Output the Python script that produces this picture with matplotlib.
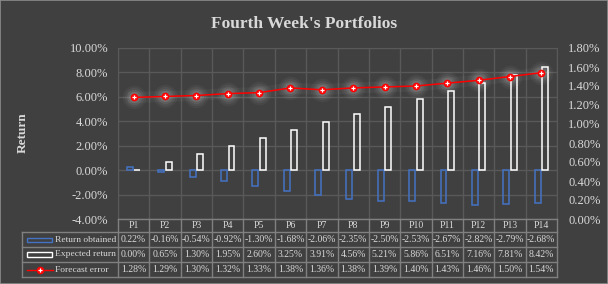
import numpy as np
import matplotlib.pyplot as plt
import matplotlib.transforms as mtransforms
from matplotlib.patches import Rectangle
from matplotlib.lines import Line2D

plt.rcParams['font.family'] = ['Liberation Serif', 'DejaVu Serif']

portfolios = ['P1', 'P2', 'P3', 'P4', 'P5', 'P6', 'P7',
              'P8', 'P9', 'P10', 'P11', 'P12', 'P13', 'P14']
return_obtained = [0.22, -0.16, -0.54, -0.92, -1.30, -1.68, -2.06,
                   -2.35, -2.50, -2.53, -2.67, -2.82, -2.79, -2.68]
expected_return = [0.00, 0.65, 1.30, 1.95, 2.60, 3.25, 3.91,
                   4.56, 5.21, 5.86, 6.51, 7.16, 7.81, 8.42]
forecast_error = [1.28, 1.29, 1.30, 1.32, 1.33, 1.38, 1.36,
                  1.38, 1.39, 1.40, 1.43, 1.46, 1.50, 1.54]

BG = '#404040'
GRID = '#595959'
TXT = '#d9d9d9'
BLUE = '#4472c4'
W, H = 608, 284

fig = plt.figure(figsize=(W / 100, H / 100), dpi=100, facecolor=BG)
fig.patches.append(Rectangle((0, 0), 1, 1, transform=fig.transFigure,
                             facecolor='none', edgecolor='#8c8c8c', lw=1.2))

L, R, T, B = 118, 557, 48, 219
ax = fig.add_axes([L / W, 1 - B / H, (R - L) / W, (B - T) / H])
ax.set_facecolor(BG)
x = np.arange(len(portfolios))

# bars
ax.bar(x - 0.12, return_obtained, 0.19, facecolor='none', edgecolor=BLUE, lw=1.1, zorder=3)
ax.bar(x + 0.12, expected_return, 0.19, facecolor='none', edgecolor='white', lw=1.1, zorder=3)

ax.set_xlim(-0.5, len(portfolios) - 0.5)
ax.set_ylim(-4, 10)
ax.set_yticks(np.arange(-4, 10.1, 2))
ax.set_yticklabels(['%.2f%%' % v for v in np.arange(-4, 10.1, 2)])
ax.set_xticks([])
ax.set_xticks(np.arange(-0.5, len(portfolios)), minor=True)
ax.tick_params(axis='x', which='both', length=0, labelbottom=False)
ax.tick_params(axis='y', length=0, colors=TXT, labelsize=9, pad=7)
ax.grid(axis='y', color=GRID, lw=1)
ax.grid(axis='x', which='minor', color=GRID, lw=1)
ax.set_axisbelow(True)
for s in ax.spines.values():
    s.set_color(GRID)

fig.text(23 / W, 1 - 133 / H, 'Return', rotation=90, ha='center', va='center',
         color=TXT, fontsize=9.5, fontweight='bold')

# forecast error on right axis
ax2 = ax.twinx()
ax2.set_ylim(0, 1.8)
ax2.set_yticks(np.arange(0, 1.81, 0.2))
ax2.set_yticklabels(['%.2f%%' % v for v in np.arange(0, 1.81, 0.2)])
ax2.tick_params(axis='y', length=0, colors=TXT, labelsize=9, pad=8)
for s in ax2.spines.values():
    s.set_visible(False)
for sz, a in [(17, 0.04), (14, 0.05), (11, 0.07), (8, 0.09)]:
    ax2.plot(x, forecast_error, 'o', ms=sz, color='white', alpha=a, mec='none', zorder=4)
ax2.plot(x, forecast_error, color='white', lw=8, alpha=0.04, zorder=4)
ax2.plot(x, forecast_error, color='#ff0000', lw=1.1, marker='o', ms=4.5,
         mfc='#ff2020', mec='#ff0000', zorder=5)
ax2.plot(x, forecast_error, '+', ms=3, mew=0.8, color='white', zorder=6)

fig.text(0.5, 1 - 24 / H, "Fourth Week's Portfolios", ha='center', va='center',
         color=TXT, fontsize=12.5, fontweight='bold')

# data table
tr = mtransforms.blended_transform_factory(ax.transData, fig.transFigure)
fy = lambda py: 1 - py / H
fx = lambda px: px / W
rows = [219, 232, 247, 262, 277]
LINE = '#808080'
for i, r in enumerate(rows):
    fig.add_artist(Line2D([fx(L if i == 0 else 22), fx(R)], [fy(r), fy(r)],
                          color=LINE, lw=1))
for b in np.arange(-0.5, len(portfolios)):
    fig.add_artist(Line2D([b, b], [fy(rows[0]), fy(rows[-1])], transform=tr,
                          color=LINE, lw=1))
fig.add_artist(Line2D([fx(22), fx(22)], [fy(rows[1]), fy(rows[-1])], color=LINE, lw=1))

mid = [(rows[i] + rows[i + 1]) / 2 for i in range(4)]
for i, p in enumerate(portfolios):
    fig.text(x[i], fy(mid[0]), p, transform=tr, ha='center', va='center', color=TXT, fontsize=7)
    for j, series in enumerate([return_obtained, expected_return, forecast_error]):
        fig.text(x[i], fy(mid[j + 1]), '%.2f%%' % series[i], transform=tr,
                 ha='center', va='center', color=TXT, fontsize=7)

names = ['Return obtained', 'Expected return', 'Forecast error']
for j, n in enumerate(names):
    fig.text(fx(55), fy(mid[j + 1]), n, ha='left', va='center', color=TXT, fontsize=6.8)
fig.patches.append(Rectangle((fx(27), fy(mid[1] + 2)), fx(25), 4 / H, transform=fig.transFigure,
                             facecolor='none', edgecolor=BLUE, lw=1))
fig.patches.append(Rectangle((fx(27), fy(mid[2] + 2.5)), fx(25), 5 / H, transform=fig.transFigure,
                             facecolor='none', edgecolor='white', lw=1))
fig.add_artist(Line2D([fx(27), fx(53)], [fy(mid[3]), fy(mid[3])], color='#ff0000', lw=1))
fig.add_artist(Line2D([fx(39.5)], [fy(mid[3])], marker='o', ms=4.5, mfc='#ff2020', mec='#ff0000'))
fig.add_artist(Line2D([fx(39.5)], [fy(mid[3])], marker='+', ms=3, mew=0.8, color='white'))

fig.savefig('out.png', dpi=100, facecolor=BG)
